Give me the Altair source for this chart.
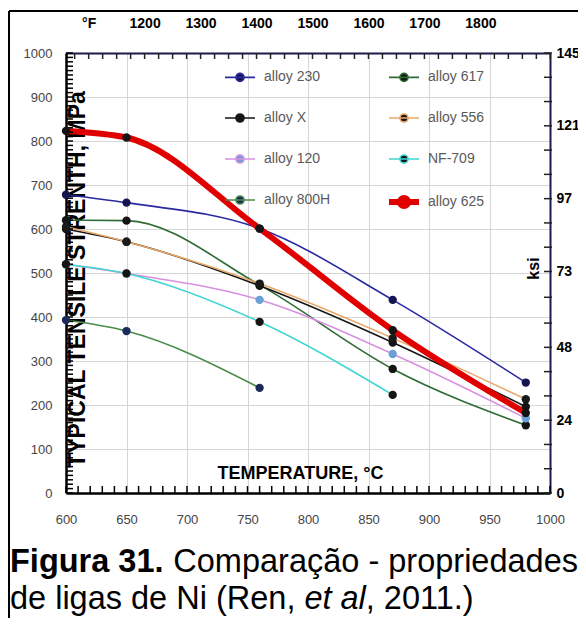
import altair as alt
import pandas as pd

# ---------------- data ----------------
temps = [600, 650, 760, 870, 980]
series_names = ["alloy 230", "alloy 617", "alloy X", "alloy 556",
                "alloy 120", "NF-709", "alloy 800H", "alloy 625"]
alloy_230 = [678, 660, 601, 439, 251]
alloy_617 = [620, 619, 473, 282, 154]
alloy_x = [600, 571, 471, 342, 196]
alloy_556 = [605, 571, 476, 352, 213]
alloy_120 = [520, 499, 439, 316, 170]
nf_709 = [520, 499, 389, 223]          # stops at 870 C
alloy_800h = [393, 368, 239]           # stops at 760 C
alloy_625 = [823, 808, 601, 370, 182]

values_by_series = [alloy_230, alloy_617, alloy_x, alloy_556,
                    alloy_120, nf_709, alloy_800h, alloy_625]

line_colors = ["#2a2aa0", "#2f6b35", "#151515", "#e8a868",
               "#d890e0", "#40d4d4", "#4a8c4a", "#e00000"]
marker_colors = ["#141450", "#141414", "#141414", "#1a1a1a",
                 "#6a9fd8", "#141414", "#1a2a5a", "#141414"]
line_widths = [1.6, 1.6, 1.6, 1.6, 1.6, 1.6, 1.6, 6]

x_ticks = list(range(600, 1001, 10))
y_ticks = list(range(0, 1001, 10))
f_ticks = list(range(1075, 1926, 25))
f_domain = [1059.5, 1924.4]
ksi_ticks = [0, 8, 16, 24, 32, 40, 48, 56, 64.5, 73, 81, 89, 97, 105, 113, 121, 129, 137, 145]

caption_bold = "Figura 31."
caption_rest1 = "Comparação - propriedades"
caption_l2a = "de ligas de Ni (Ren,"
caption_l2b = "et al"
caption_l2c = ", 2011.)"

rows = []
for name, vals in zip(series_names, values_by_series):
    for t, v in zip(temps, vals):
        rows.append({"alloy": name, "temp": t, "mpa": v})
df = pd.DataFrame(rows)

W, H = 484, 440
FONT = "Liberation Sans"

legend = alt.Legend(
    title=None, orient="none", legendX=156, legendY=8, columns=2, direction="horizontal",
    columnPadding=46, rowPadding=17, labelFont=FONT, labelFontSize=14,
    labelColor="#5a5a5a", labelOffset=6, symbolSize=900,
    symbolType="M-1,0H1M-0.27,0A0.27,0.27 0 1 1 0.27,0A0.27,0.27 0 1 1 -0.27,0Z",
    symbolFillColor="#141414",
)

x_axis = alt.Axis(
    values=x_ticks, labelExpr="datum.value % 50 === 0 ? '' + datum.value : ''",
    ticks=False, labelFlush=False,
    grid=True, gridColor="#d6d6d6",
    gridOpacity={"condition": {"test": "datum.value % 50 === 0", "value": 1}, "value": 0},
    labelPadding=20, labelFont=FONT, labelFontSize=13, labelColor="#444444",
    domainColor="#000000", domainWidth=2.5,
    title="TEMPERATURE, °C", titleX=234, titleY=-15, titleBaseline="alphabetic",
    titleFont=FONT, titleFontSize=18, titleFontWeight="bold", titleColor="#000000",
)
y_axis = alt.Axis(
    values=y_ticks, labelExpr="datum.value % 100 === 0 ? '' + datum.value : ''",
    ticks=False, labelFlush=False,
    grid=True, gridColor="#d6d6d6",
    gridOpacity={"condition": {"test": "datum.value % 100 === 0", "value": 1}, "value": 0},
    labelPadding=14, labelFont=FONT, labelFontSize=13, labelColor="#444444",
    domainColor="#000000", domainWidth=2.5,
    title="TYPICAL TENSILE STRENTH, MPa", titleX=11, titleY=226, titleAngle=270,
    titleAlign="center", titleBaseline="middle",
    titleFont=FONT, titleFontSize=23, titleFontWeight="bold", titleColor="#000000",
)

x_scale = alt.Scale(domain=[600, 1000], nice=False, zero=False)
y_scale = alt.Scale(domain=[0, 1000], nice=False)
X = alt.X("temp:Q", scale=x_scale, axis=x_axis)
Y = alt.Y("mpa:Q", scale=y_scale, axis=y_axis)

base = alt.Chart(df)
lines = base.mark_line(interpolate="monotone").encode(
    x=X, y=Y,
    color=alt.Color("alloy:N", scale=alt.Scale(domain=series_names, range=line_colors), legend=legend),
    strokeWidth=alt.StrokeWidth("alloy:N", scale=alt.Scale(type="ordinal", domain=series_names, range=line_widths),
                                legend=legend),
)
points = base.mark_circle(size=70, opacity=1).encode(
    x=X, y=Y,
    fill=alt.Fill("alloy:N", scale=alt.Scale(domain=series_names, range=marker_colors), legend=None),
)
# small inward ticks drawn along the bottom and left edges
x_tick_marks = alt.Chart(pd.DataFrame({"temp": x_ticks})).mark_rule(
    color="#000000", strokeWidth=1.5).encode(x=X, y=alt.value(H), y2=alt.value(H - 7))
y_tick_marks = alt.Chart(pd.DataFrame({"mpa": y_ticks})).mark_rule(
    color="#000000", strokeWidth=1.5).encode(y=Y, x=alt.value(0), x2=alt.value(7))
main = alt.layer(lines, x_tick_marks, y_tick_marks, points)

f_scale = alt.Scale(domain=f_domain, nice=False, zero=False)
ksi_scale = alt.Scale(domain=[0, 145], nice=False)
FX = alt.X("F:Q", scale=f_scale,
           axis=alt.Axis(orient="top", values=f_ticks, ticks=False, labelFlush=False,
                         labelExpr="datum.value % 100 === 0 && datum.value <= 1800 ? (datum.value === 1100 ? '°F' : '' + datum.value) : ''",
                         grid=False, labelPadding=23, labelFont=FONT, labelFontSize=14, labelFontWeight="bold",
                         labelColor="#000000", domainColor="#1a1a50", domainWidth=2, title=None))
KY = alt.Y("ksi:Q", scale=ksi_scale,
           axis=alt.Axis(orient="right", values=ksi_ticks, ticks=False, labelFlush=False,
                         labelExpr="indexof([0,24,48,73,97,121,145], datum.value) >= 0 ? '' + datum.value : ''",
                         grid=False, labelPadding=6, labelFont=FONT, labelFontSize=14, labelFontWeight="bold",
                         labelColor="#000000", domainColor="#1a1a50", domainWidth=2,
                         title="ksi", titleX=-17, titleY=215, titleAngle=270,
                         titleAlign="center", titleBaseline="middle",
                         titleFont=FONT, titleFontSize=16, titleFontWeight="bold", titleColor="#000000"))

aux_labels = alt.Chart(pd.DataFrame({"F": [f_domain[0]], "ksi": [0]})).mark_point(opacity=0).encode(x=FX, y=KY)
f_tick_marks = alt.Chart(pd.DataFrame({"F": f_ticks})).mark_rule(
    color="#222222", strokeWidth=1.5).encode(x=FX, y=alt.value(0), y2=alt.value(6))
ksi_tick_marks = alt.Chart(pd.DataFrame({"ksi": ksi_ticks})).mark_rule(
    color="#222222", strokeWidth=1.5).encode(y=KY, x=alt.value(W - 6), x2=alt.value(W + 2))
aux = alt.layer(aux_labels, f_tick_marks, ksi_tick_marks)

one = pd.DataFrame({"a": [0]})
frame_left = alt.Chart(one).mark_rule(color="#000000", strokeWidth=2).encode(
    x=alt.value(-57), y=alt.value(-42), y2=alt.value(575))
frame_top = alt.Chart(one).mark_rule(color="#000000", strokeWidth=2).encode(
    x=alt.value(-57), x2=alt.value(520), y=alt.value(-42))

cap_style = dict(font=FONT, fontSize=32.5, color="#000000", baseline="alphabetic")
cap1 = alt.Chart(one).mark_text(text=caption_bold, align="left", fontWeight="bold", **cap_style).encode(
    x=alt.value(-56), y=alt.value(519))
cap2 = alt.Chart(one).mark_text(text=caption_rest1, align="right", **cap_style).encode(
    x=alt.value(512), y=alt.value(519))
cap3 = alt.Chart(one).mark_text(text=caption_l2a, align="left", **cap_style).encode(
    x=alt.value(-56), y=alt.value(556))
cap4 = alt.Chart(one).mark_text(text=caption_l2b, align="left", fontStyle="italic", **cap_style).encode(
    x=alt.value(238.4), y=alt.value(556))
cap5 = alt.Chart(one).mark_text(text=caption_l2c, align="left", **cap_style).encode(
    x=alt.value(299.8), y=alt.value(556))

chart = alt.layer(
    main, aux, frame_left, frame_top, cap1, cap2, cap3, cap4, cap5
).resolve_scale(x="independent", y="independent").properties(
    width=W, height=H,
    autosize=alt.AutoSizeParams(type="none"),
    padding={"left": 58, "top": 45, "right": 28, "bottom": 125},
    background="#ffffff",
).configure_view(stroke="#1a1a50", strokeWidth=2).configure(font=FONT)

chart.save("out.html", embed_options={"renderer": "svg", "actions": False})
